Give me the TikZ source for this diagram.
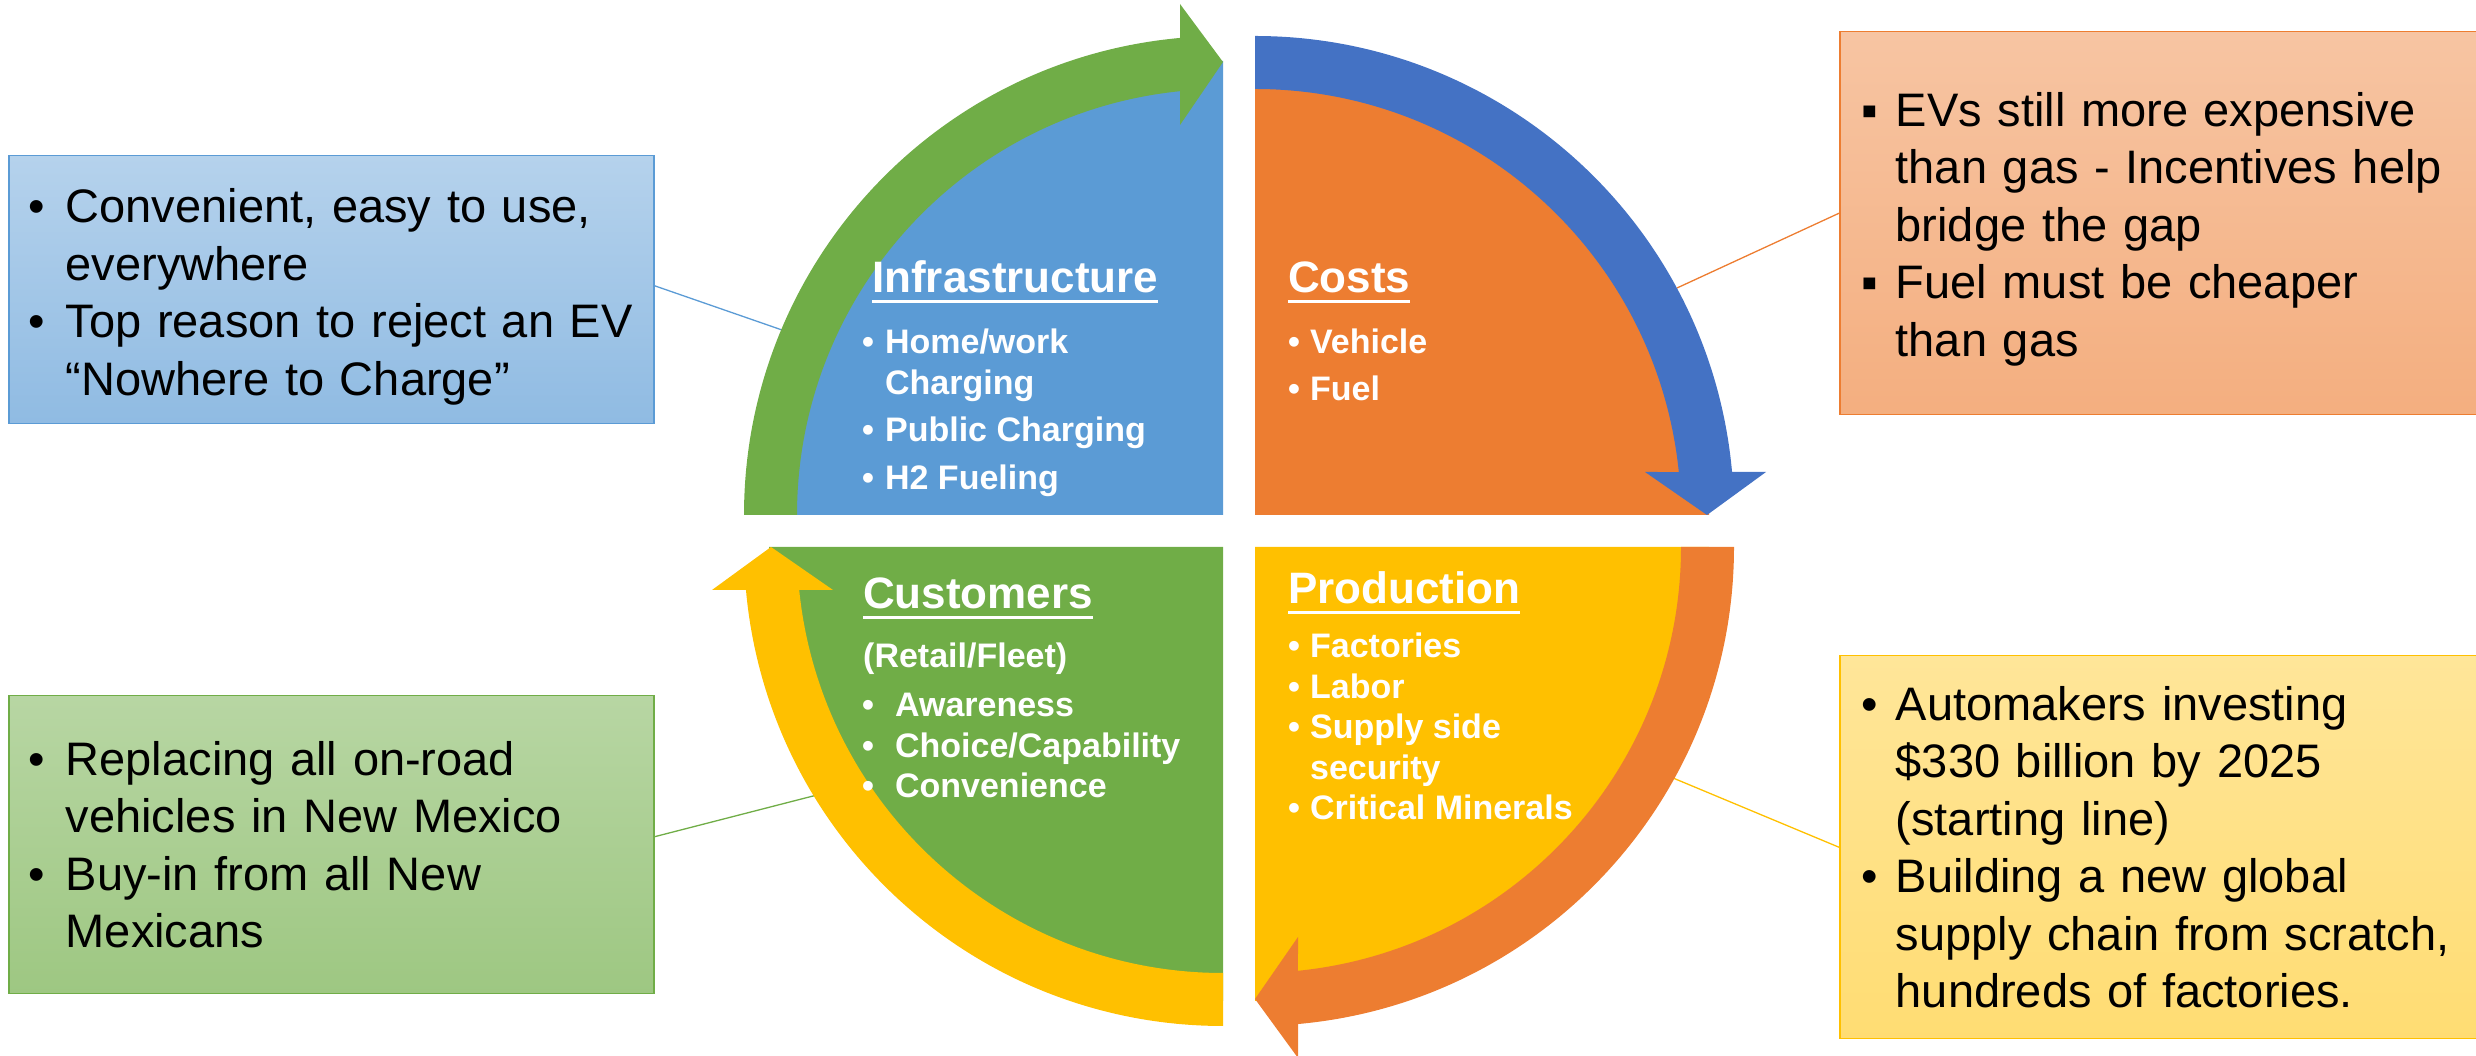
\documentclass[tikz,border=0pt]{standalone}
\usepackage{fontspec}
\setmainfont{Liberation Sans}
\usetikzlibrary{calc}
\definecolor{infrablue}{HTML}{5B9BD5}
\definecolor{costorange}{HTML}{ED7D31}
\definecolor{custgreen}{HTML}{70AD47}
\definecolor{prodyellow}{HTML}{FFC000}
\definecolor{arrowblue}{HTML}{4472C4}
\newsavebox\ulbox
\newcommand\qul[1]{\sbox\ulbox{#1}\rlap{\rule[-10pt]{\wd\ulbox}{3pt}}\usebox\ulbox}
\newcommand\bx{\makebox[37pt][l]{\textbullet}}
\newcommand\bxr{\makebox[34pt][l]{\textbullet}}
\newcommand\sqr{\makebox[34pt][l]{▪}}
\newcommand\lift[1]{\rule{0pt}{#1}}
\begin{document}
\begin{tikzpicture}[x=1pt, y=1pt,
    qtitle/.style={anchor=base west, inner sep=0pt, text=white, font=\fontsize{44}{50}\selectfont\bfseries},
    qlist/.style={anchor=base west, inner sep=0pt, text=white, font=\fontsize{34}{40.5}\selectfont\bfseries},
    infobox/.style={anchor=north west, draw, line width=1.5pt, inner xsep=20pt, inner ysep=0pt, align=left, text=black, font=\fontsize{47}{57.5}\selectfont},
    link/.style={line width=1.3pt},
    ]
    \useasboundingbox (0,0) rectangle (2476,1056);
    % corners of the four quarters
    \coordinate (tl) at (1223,541);
    \coordinate (tr) at (1255,541);
    \coordinate (bl) at (1223,509);
    \coordinate (br) at (1255,509);
    % side boxes
    \node[infobox, draw=infrablue, top color=infrablue!45, bottom color=infrablue!68, minimum width=645pt, minimum height=268pt, text width=605pt] at (8,901) (infoInfra) {\lift{48pt}\bx Convenient, easy to use,\\\hspace*{37pt}everywhere\\\bx Top reason to reject an EV\\\hspace*{37pt}“Nowhere to Charge”};
    \node[infobox, draw=custgreen, top color=custgreen!50, bottom color=custgreen!68, minimum width=645pt, minimum height=298pt, text width=605pt] at (8,361) (infoCust) {\bx Replacing all on-road\\\hspace*{37pt}vehicles in New Mexico\\\bx Buy-in from all New\\\hspace*{37pt}Mexicans};
    \node[infobox, draw=costorange, top color=costorange!45, bottom color=costorange!62, minimum width=720pt, minimum height=383pt, text width=680pt, inner xsep=22pt] at (1839,1025) (infoCost) {\lift{46pt}\sqr EVs still more expensive\\\hspace*{34pt}than gas - Incentives help\\\hspace*{34pt}bridge the gap\\\sqr Fuel must be cheaper\\\hspace*{34pt}than gas};
    \node[infobox, draw=prodyellow, top color=prodyellow!40, bottom color=prodyellow!55, minimum width=720pt, minimum height=383pt, text width=680pt, inner xsep=22pt] at (1839,401) (infoProd) {\bxr Automakers investing\\\hspace*{34pt}\$330 billion by 2025\\\hspace*{34pt}(starting line)\\\bxr Building a new global\\\hspace*{34pt}supply chain from scratch,\\\hspace*{34pt}hundreds of factories.};
    % where the links meet the arrows
    \coordinate (infraHit) at (782,726);
    \coordinate (costHit) at (1677,768);
    \coordinate (custHit) at (817,261);
    \coordinate (prodHit) at (1673,278);
    \draw[link, infrablue] ([yshift=4pt]infoInfra.east) -- (infraHit);
    \draw[link, custgreen] ([yshift=8pt]infoCust.east) -- (custHit);
    \draw[link, costorange] ([yshift=10pt]infoCost.west) -- (costHit);
    \draw[link, prodyellow] (infoProd.west) -- (prodHit);
    % quarters
    \fill[infrablue] (tl) -- ++(180:454pt) arc[start angle=180, end angle=90, radius=454pt] -- cycle;
    \fill[costorange] (tr) -- ++(90:454pt) arc[start angle=90, end angle=0, radius=454pt] -- cycle;
    \fill[prodyellow] (br) -- ++(0:454pt) arc[start angle=0, end angle=-90, radius=454pt] -- cycle;
    \fill[custgreen] (bl) -- ++(270:454pt) arc[start angle=270, end angle=180, radius=454pt] -- cycle;
    % curved arrows
    \fill[custgreen] ($(tl)+(180:479pt)$) arc[start angle=180, end angle=95.15, radius=479pt] -- (1180,1052) -- (1223,994) -- (1180,931) -- ($(tl)+(95.79:426pt)$) arc[start angle=95.79, end angle=180, radius=426pt] -- cycle;
    \fill[arrowblue] ($(tr)+(90:479pt)$) arc[start angle=90, end angle=5.15, radius=479pt] -- (1766,584) -- (1707,541) -- (1645,584) -- ($(tr)+(5.79:426pt)$) arc[start angle=5.79, end angle=90, radius=426pt] -- cycle;
    \fill[costorange] ($(br)+(0:479pt)$) arc[start angle=0, end angle=-84.85, radius=479pt] -- (1298,-2) -- (1255,57) -- (1298,119) -- ($(br)+(-84.21:426pt)$) arc[start angle=-84.21, end angle=0, radius=426pt] -- cycle;
    \fill[prodyellow] ($(bl)+(270:479pt)$) arc[start angle=270, end angle=185.15, radius=479pt] -- (712,466) -- (771,509) -- (833,466) -- ($(bl)+(185.79:426pt)$) arc[start angle=185.79, end angle=270, radius=426pt] -- cycle;
    % quarter texts
    \node[qtitle] at (872,763) (infraTitle) {\qul{Infrastructure}};
    \node[qlist] at (862,702) (infraList) {\begin{tabular}[t]{@{}l@{\hspace{11pt}}l@{}}\textbullet & Home/work\\ & Charging\\[7pt]\textbullet & Public Charging\\[7pt]\textbullet & H2 Fueling\end{tabular}};
    \node[qtitle] at (1288,763) (costTitle) {\qul{Costs}};
    \node[qlist] at (1288,702) (costList) {\begin{tabular}[t]{@{}l@{\hspace{10pt}}l@{}}\textbullet & Vehicle\\[6pt]\textbullet & Fuel\end{tabular}};
    \node[qtitle] at (863,447) (custTitle) {\qul{Customers}};
    \node[qlist] at (863,388) (custSub) {(Retail/Fleet)};
    \node[qlist] at (862,339) (custList) {\begin{tabular}[t]{@{}l@{\hspace{21pt}}l@{}}\textbullet & Awareness\\\textbullet & Choice/Capability\\\textbullet & Convenience\end{tabular}};
    \node[qtitle] at (1288,452) (prodTitle) {\qul{Production}};
    \node[qlist] at (1288,398) (prodList) {\begin{tabular}[t]{@{}l@{\hspace{10pt}}l@{}}\textbullet & Factories\\\textbullet & Labor\\\textbullet & Supply side\\ & security\\\textbullet & Critical Minerals\end{tabular}};
\end{tikzpicture}
\end{document}
